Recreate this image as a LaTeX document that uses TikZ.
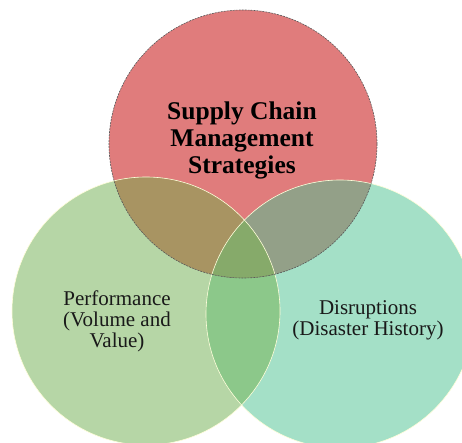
\documentclass[tikz,border=0pt]{standalone}
\usepackage{fontspec}
\setmainfont{Liberation Serif}
\usetikzlibrary{positioning}
\definecolor{scmred}{RGB}{224,124,124}
\definecolor{perfgreen}{RGB}{182,214,166}
\definecolor{disteal}{RGB}{164,224,199}
\definecolor{redgreen}{RGB}{168,148,98}
\definecolor{redteal}{RGB}{147,160,136}
\definecolor{greenteal}{RGB}{140,200,138}
\definecolor{allthree}{RGB}{134,170,106}
\newcommand{\vr}{134pt}
\tikzset{
  venn/.style={draw=white!85!yellow, line width=0.6pt},
  topline/.style={draw=black!65, line width=0.6pt, dash pattern=on 2pt off 1pt},
  lbl/.style={align=center, text=black!90, font=\fontsize{21}{21}\selectfont},
  ttl/.style={align=center, text=black, font=\bfseries\fontsize{25.5}{27}\selectfont},
}

\begin{document}
\begin{tikzpicture}[x=1pt,y=1pt]
         \useasboundingbox[clip] (0,0) rectangle (462,442);
         % centres
         \coordinate (top) at (243,298);
         \coordinate (left) at (146,131);
         \coordinate (right) at (340,128);
         % circles
         \fill[scmred] (top) circle (\vr);
         \fill[perfgreen] (left) circle (\vr);
         \fill[disteal] (right) circle (\vr);
         % overlaps
         \begin{scope}
           \clip (left) circle (\vr);
           \fill[greenteal] (right) circle (\vr);
         \end{scope}
         \begin{scope}
           \clip (top) circle (\vr);
           \fill[redgreen] (left) circle (\vr);
           \fill[redteal] (right) circle (\vr);
           \clip (left) circle (\vr);
           \fill[allthree] (right) circle (\vr);
         \end{scope}
         % outlines
         \draw[venn] (left) circle (\vr);
         \draw[venn] (right) circle (\vr);
         \draw[topline] (top) circle (\vr);
         % labels
         \node[ttl] (scm) at (242,302) {Supply Chain\\Management\\Strategies};
         \node[lbl] (perf) at (117,121) {Performance\\(Volume and\\Value)};
         \node[lbl] (dis) at (368,122) {Disruptions\\(Disaster History)};
\end{tikzpicture}
\end{document}
